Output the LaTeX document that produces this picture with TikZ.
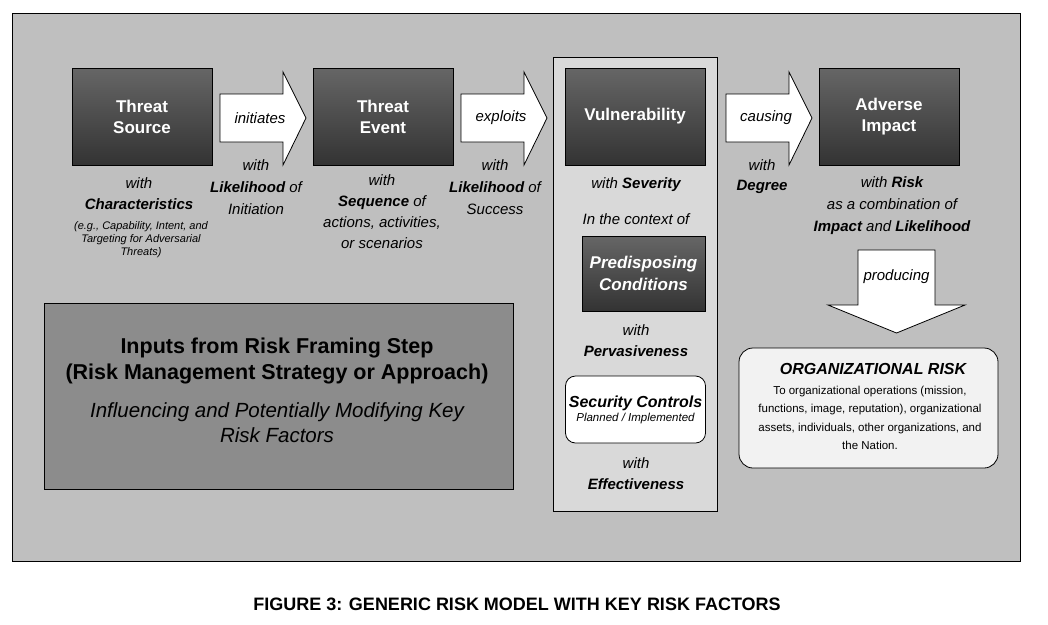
\documentclass[tikz,border=0pt]{standalone}
\usepackage{fontspec}
\setmainfont{Liberation Sans}
\usetikzlibrary{shapes.arrows}
\begin{document}
\begin{tikzpicture}[x=1pt,y=-1pt,
 dark/.style={draw=black,line width=0.8pt,top color=black!60,bottom color=black!80,text=white,font=\fontsize{17}{21}\selectfont\bfseries,align=center},
 lab/.style={font=\fontsize{15}{17}\selectfont\itshape,align=center},
 blk/.style={draw=black,fill=white,line width=0.8pt}]
\useasboundingbox (0,0) rectangle (1048,624);
\draw[fill=black!25,line width=0.8pt] (12,13) rectangle (1020,561);
\draw[fill=black!15,line width=0.8pt] (553,57) rectangle (717,511);
% dark boxes
\node[dark,minimum width=140,minimum height=97] (ts) at (142,116.5) {Threat\\Source};
\node[dark,minimum width=140,minimum height=97] (te) at (383,116.5) {Threat\\Event};
\node[dark,minimum width=140,minimum height=97] (vu) at (635,116.5) {Vulnerability};
\node[dark,minimum width=140,minimum height=97] (ai) at (889,116.5) {Adverse\\Impact};
% block arrows
\foreach \a/\t in {220/initiates,461/exploits,726/causing}{
 \draw[blk] (\a,94) -- (\a+63,94) -- (\a+63,72) -- (\a+86,118) -- (\a+63,165) -- (\a+63,142) -- (\a,142) -- cycle;
 \node[lab] at (\a+40,118) {\t};
}
% labels
\node[lab] at (139,183) {with};
\node[lab] at (139,204) {\textbf{Characteristics}};
\node[align=center,font=\fontsize{11}{13}\selectfont\itshape] at (141,240) {(e.g., Capability, Intent, and\\Targeting for Adversarial\\Threats)};
\node[lab] at (256,165) {with};
\node[lab] at (256,187) {\textbf{Likelihood} of};
\node[lab] at (256,209) {Initiation};
\node[lab] at (382,180) {with};
\node[lab,font=\fontsize{15}{21}\selectfont\itshape] at (382,222) {\textbf{Sequence} of\\actions, activities,\\or scenarios};
\node[lab] at (495,165) {with};
\node[lab] at (495,187) {\textbf{Likelihood} of};
\node[lab] at (495,209) {Success};
\node[lab] at (636,185) {with \textbf{Severity}};
\node[lab] at (636,219) {In the context of};
\node[dark,minimum width=123,minimum height=75,font=\fontsize{17}{22}\selectfont\bfseries\itshape] (pc) at (643.5,273.5) {Predisposing\\Conditions};
\node[lab] at (636,330) {with};
\node[lab] at (636,351) {\textbf{Pervasiveness}};
\node[draw=black,line width=0.8pt,fill=white,rounded corners=10,minimum width=139,minimum height=67,align=center] (sc) at (635.5,409.5) {{\fontsize{16}{18}\selectfont\bfseries\itshape Security Controls}\\[2pt]{\fontsize{11.5}{13}\selectfont\itshape Planned / Implemented}};
\node[lab] at (636,463) {with};
\node[lab] at (636,484) {\textbf{Effectiveness}};
\node[lab] at (762,165) {with};
\node[lab] at (762,187) {\textbf{Degree}};
\node[lab,font=\fontsize{15}{22}\selectfont\itshape] at (892,206) {with \textbf{Risk}\\as a combination of\\\textbf{Impact} and \textbf{Likelihood}};
% producing arrow
\draw[blk] (858,250) -- (935,250) -- (935,305) -- (965,305) -- (896.5,333) -- (828,305) -- (858,305) -- cycle;
\node[lab] at (896.5,277) {producing};
% org risk
\node[draw=black,line width=0.8pt,fill=black!5,rounded corners=14,minimum width=259,minimum height=120,align=center] (or) at (868.5,408) {};
\node[font=\fontsize{16}{18}\selectfont\itshape\bfseries] at (873,369) {ORGANIZATIONAL RISK};
\node[align=center,font=\fontsize{11.5}{18.5}\selectfont] at (870,418) {To organizational operations (mission,\\functions, image, reputation), organizational\\assets, individuals, other organizations, and\\the Nation.};
% inputs
\draw[fill=black!45,line width=0.8pt] (44,303) rectangle (513,489);
\node[align=center,font=\fontsize{21.5}{26}\selectfont\bfseries] at (277,361) {Inputs from Risk Framing Step\\(Risk Management Strategy or Approach)};
\node[align=center,font=\fontsize{20.5}{25}\selectfont\itshape] at (277,423) {Influencing and Potentially Modifying Key\\Risk Factors};
\node[font=\fontsize{18}{20}\selectfont\bfseries] at (517,604) {FIGURE 3: GENERIC RISK MODEL WITH KEY RISK FACTORS};
\end{tikzpicture}
\end{document}
